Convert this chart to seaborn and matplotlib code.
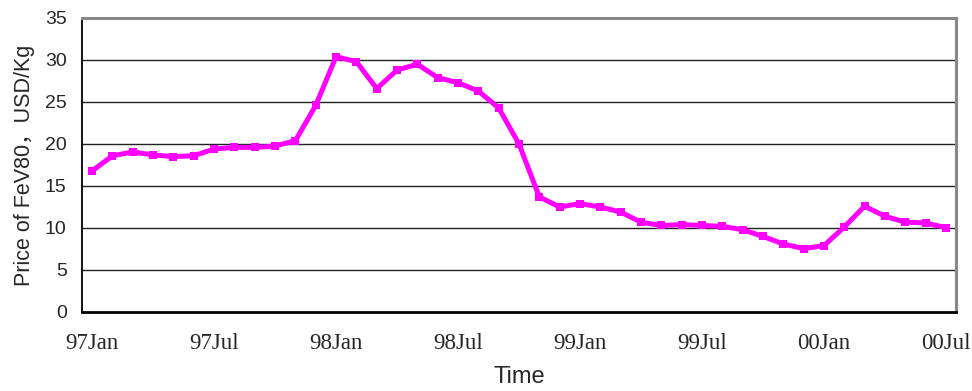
import numpy as np
import pandas as pd
import matplotlib
matplotlib.use("Agg")
import matplotlib.pyplot as plt
import seaborn as sns

months = ["Jan", "Feb", "Mar", "Apr", "May", "Jun", "Jul", "Aug", "Sep", "Oct", "Nov", "Dec"]
periods = [f"{y}{m}" for y in ["97", "98", "99"] for m in months] + [f"00{m}" for m in months[:7]]
price = [16.8, 18.6, 19.05, 18.7, 18.5, 18.6, 19.4, 19.6, 19.6, 19.75, 20.4, 24.6,
         30.4, 29.8, 26.6, 28.8, 29.5, 27.9, 27.3, 26.3, 24.3, 20.0, 13.7, 12.5,
         12.9, 12.5, 11.9, 10.7, 10.3, 10.4, 10.3, 10.2, 9.8, 9.0, 8.1, 7.55,
         7.9, 10.1, 12.6, 11.4, 10.7, 10.6, 10.05]
tick_labels = ["97Jan", "97Jul", "98Jan", "98Jul", "99Jan", "99Jul", "00Jan", "00Jul"]
y_ticks = [0, 5, 10, 15, 20, 25, 30, 35]

df = pd.DataFrame({"idx": np.arange(len(periods)), "period": periods, "price": price})

sns.set_style("white")
plt.rcParams["font.family"] = ["Liberation Sans", "Noto Sans CJK SC", "DejaVu Sans"]

fig = plt.figure(figsize=(9.72, 3.91), dpi=100)
ax = fig.add_axes([82 / 972, 79 / 391, 874 / 972, 294 / 391])

sns.lineplot(data=df, x="idx", y="price", ax=ax, color="#FF00FF", linewidth=3.6,
             marker="s", markersize=6, markeredgewidth=0, markerfacecolor="#FF00FF")

n = len(periods)
ax.set_xlim(-0.5, n - 0.5)
ax.set_ylim(0, 35)
ax.set_yticks(y_ticks)
for v in y_ticks[1:-1]:
    ax.axhline(v, color="#222222", linewidth=1.0, zorder=0)

label_pos = [periods.index(t) for t in tick_labels]
ax.set_xticks(label_pos)
ax.set_xticklabels(tick_labels, fontfamily="Liberation Serif", fontsize=16.5)
ax.set_xticks(np.arange(-0.5, n, 1.0), minor=True)
ax.tick_params(axis="x", which="major", length=0, pad=15)
ax.tick_params(axis="x", which="minor", direction="in", length=5, width=1, color="black")
ax.tick_params(axis="y", which="major", direction="in", length=5, width=1, color="black",
               labelsize=14, pad=11)

for s in ["left", "bottom"]:
    ax.spines[s].set_color("black")
ax.spines["left"].set_linewidth(1.3)
ax.spines["bottom"].set_linewidth(2.0)
for s in ["top", "right"]:
    ax.spines[s].set_color("#888888")
    ax.spines[s].set_linewidth(2.2)
    ax.spines[s].set_visible(True)

ax.set_xlabel("Time", fontsize=17, labelpad=9)
ax.set_ylabel("Price of FeV80，USD/Kg", fontsize=15.5, labelpad=7)

fig.savefig("out.png", dpi=100)
